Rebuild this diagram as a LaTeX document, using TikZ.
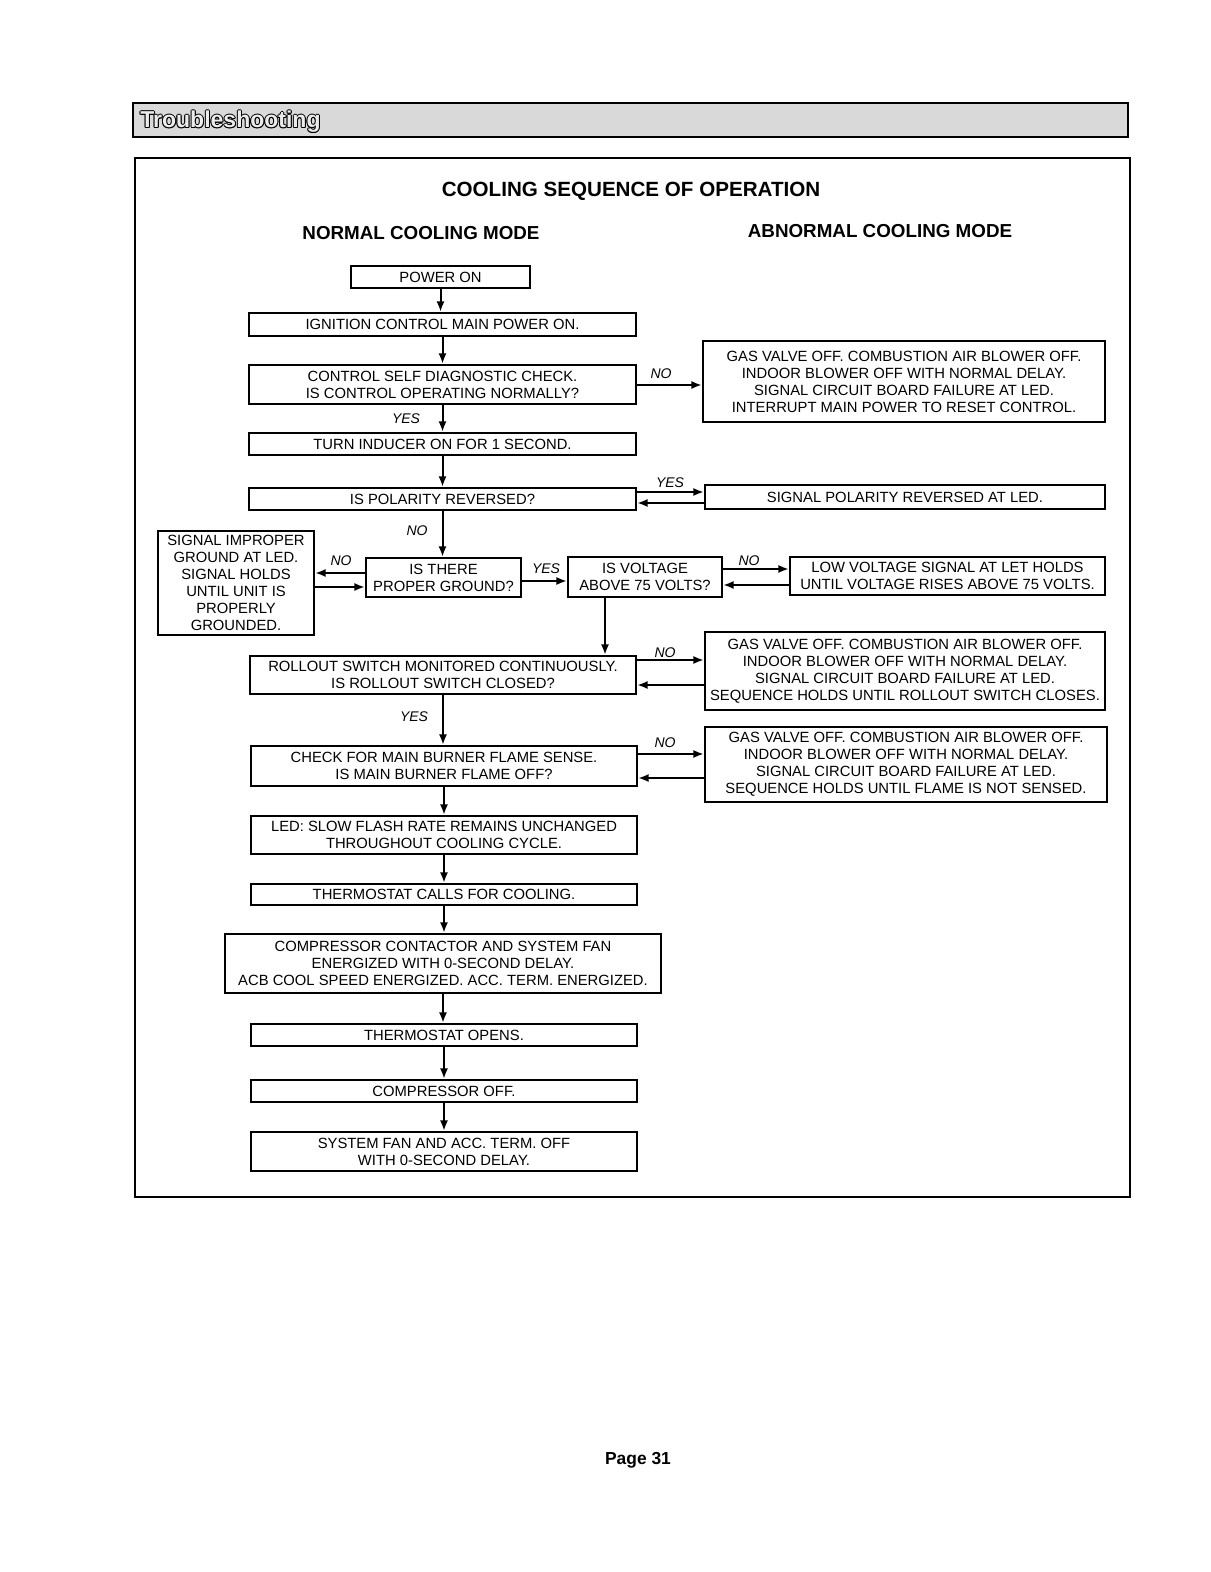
\documentclass[tikz,border=0pt]{standalone}
\usepackage{fontspec}
\setmainfont{Liberation Sans}
\usetikzlibrary{arrows.meta}
\newcommand\bx[6]{\node[box, minimum width={(#4-#2)*0.5pt}, minimum height={(#5-#3)*0.5pt}] (#1) at ({(#2+#4)/2},{(#3+#5)/2}) {#6};}
\begin{document}
\begin{tikzpicture}[x=0.5pt,y=-0.5pt,
  box/.style={draw, line width=1.15pt, inner sep=0pt, align=center, font=\fontsize{7.4}{8.5}\selectfont},
  arr/.style={line width=1pt, -{Latex[length=5.2pt,width=4pt]}},
  lab/.style={font=\fontsize{7}{8}\selectfont\itshape, inner sep=0pt},
  head/.style={font=\fontsize{9.4}{11}\selectfont\bfseries, inner sep=0pt}]
\useasboundingbox (0,0) rectangle (1210,1572);

% banner
\node[draw, line width=1.2pt, fill=gray!30, inner sep=0pt, minimum width=497.5pt, minimum height=17pt] (banner) at (630.5,120) {};
\foreach \dx/\dy in {-0.5/0,0.5/0,0/-0.5,0/0.5,-0.35/-0.35,0.35/0.35,-0.35/0.35,0.35/-0.35}
  \node[anchor=west, inner sep=0pt, font=\fontsize{11.5}{13}\selectfont\bfseries, text=black]
    at ([shift={(\dx pt,\dy pt)}]140,122) {Troubleshooting};
\node[anchor=west, inner sep=0pt, font=\fontsize{11.5}{13}\selectfont\bfseries, text=gray!15]
    (bannertext) at (140,122) {Troubleshooting};

% frame
\draw[line width=1.2pt] (135,158) rectangle (1130,1197);

% headings
\node[head, font=\fontsize{10.3}{12}\selectfont\bfseries] (title) at (631,191) {COOLING SEQUENCE OF OPERATION};
\node[head] (normal) at (421,233) {NORMAL COOLING MODE};
\node[head] (abnormal) at (880,231) {ABNORMAL COOLING MODE};

% boxes
\bx{pwr}{351}{266}{530}{288}{POWER ON}
\bx{ign}{249}{313}{636}{336}{IGNITION CONTROL MAIN POWER ON.}
\bx{ctrl}{249}{365}{636}{404}{CONTROL SELF DIAGNOSTIC CHECK.\\IS CONTROL OPERATING NORMALLY?}
\bx{gv1}{703}{341}{1105}{422}{GAS VALVE OFF. COMBUSTION AIR BLOWER OFF.\\INDOOR BLOWER OFF WITH NORMAL DELAY.\\SIGNAL CIRCUIT BOARD FAILURE AT LED.\\INTERRUPT MAIN POWER TO RESET CONTROL.}
\bx{ind}{249}{433}{636}{455}{TURN INDUCER ON FOR 1 SECOND.}
\bx{pol}{249}{488}{636}{510}{IS POLARITY REVERSED?}
\bx{spr}{705}{485}{1105}{509}{SIGNAL POLARITY REVERSED AT LED.}
\bx{sig}{158}{531}{314}{635}{SIGNAL IMPROPER\\GROUND AT LED.\\SIGNAL HOLDS\\UNTIL UNIT IS\\PROPERLY\\GROUNDED.}
\bx{gnd}{366}{558}{521}{597}{IS THERE\\PROPER GROUND?}
\bx{volt}{568}{557}{722}{597}{IS VOLTAGE\\ABOVE 75 VOLTS?}
\bx{low}{790}{557}{1105}{595}{LOW VOLTAGE SIGNAL AT LET HOLDS\\UNTIL VOLTAGE RISES ABOVE 75 VOLTS.}
\bx{roll}{250}{656}{636}{694}{ROLLOUT SWITCH MONITORED CONTINUOUSLY.\\IS ROLLOUT SWITCH CLOSED?}
\bx{gv2}{705}{632}{1105}{710}{GAS VALVE OFF. COMBUSTION AIR BLOWER OFF.\\INDOOR BLOWER OFF WITH NORMAL DELAY.\\SIGNAL CIRCUIT BOARD FAILURE AT LED.\\SEQUENCE HOLDS UNTIL ROLLOUT SWITCH CLOSES.}
\bx{chk}{251}{746}{637}{786}{CHECK FOR MAIN BURNER FLAME SENSE.\\IS MAIN BURNER FLAME OFF?}
\bx{gv3}{705}{727}{1107}{802}{GAS VALVE OFF. COMBUSTION AIR BLOWER OFF.\\INDOOR BLOWER OFF WITH NORMAL DELAY.\\SIGNAL CIRCUIT BOARD FAILURE AT LED.\\SEQUENCE HOLDS UNTIL FLAME IS NOT SENSED.}
\bx{led}{251}{816}{637}{854}{LED: SLOW FLASH RATE REMAINS UNCHANGED\\THROUGHOUT COOLING CYCLE.}
\bx{tcall}{251}{884}{637}{905}{THERMOSTAT CALLS FOR COOLING.}
\bx{comp}{225}{934}{661}{993}{COMPRESSOR CONTACTOR AND SYSTEM FAN\\ENERGIZED WITH 0-SECOND DELAY.\\ACB COOL SPEED ENERGIZED. ACC. TERM. ENERGIZED.}
\bx{topen}{251}{1024}{637}{1046}{THERMOSTAT OPENS.}
\bx{coff}{251}{1080}{637}{1102}{COMPRESSOR OFF.}
\bx{sys}{251}{1132}{637}{1171}{SYSTEM FAN AND ACC. TERM. OFF\\WITH 0-SECOND DELAY.}

% vertical arrows
\draw[arr] (pwr.south) -- (pwr.south |- ign.north);
\draw[arr] (ign.south) -- (ctrl.north);
\draw[arr] (ctrl.south) -- (ind.north);
\draw[arr] (ind.south) -- (pol.north);
\draw[arr] (pol.south) -- (pol.south |- gnd.north);
\draw[arr] (volt.south -| 605,0) -- (roll.north -| 605,0);
\draw[arr] (roll.south) -- (roll.south |- chk.north);
\draw[arr] (chk.south) -- (led.north);
\draw[arr] (led.south) -- (tcall.north);
\draw[arr] (tcall.south) -- (tcall.south |- comp.north);
\draw[arr] (comp.south) -- (comp.south |- topen.north);
\draw[arr] (topen.south) -- (coff.north);
\draw[arr] (coff.south) -- (sys.north);

% horizontal arrows
\draw[arr] (ctrl.east |- 0,385) -- (gv1.west |- 0,385);
\draw[arr] (pol.east |- 0,492) -- (spr.west |- 0,492);
\draw[arr] (spr.west |- 0,503) -- (pol.east |- 0,503);
\draw[arr] (gnd.west |- 0,573) -- (sig.east |- 0,573);
\draw[arr] (sig.east |- 0,587) -- (gnd.west |- 0,587);
\draw[arr] (gnd.east |- 0,581) -- (volt.west |- 0,581);
\draw[arr] (volt.east |- 0,569) -- (low.west |- 0,569);
\draw[arr] (low.west |- 0,585) -- (volt.east |- 0,585);
\draw[arr] (roll.east |- 0,660) -- (gv2.west |- 0,660);
\draw[arr] (gv2.west |- 0,685) -- (roll.east |- 0,685);
\draw[arr] (chk.east |- 0,754) -- (gv3.west |- 0,754);
\draw[arr] (gv3.west |- 0,778) -- (chk.east |- 0,778);

% labels
\node[lab] (l1) at (661,374) {NO};
\node[lab] (l2) at (406,419) {YES};
\node[lab] (l3) at (670,483) {YES};
\node[lab] (l4) at (417,531) {NO};
\node[lab] (l5) at (341,561) {NO};
\node[lab] (l6) at (546,569) {YES};
\node[lab] (l7) at (749,561) {NO};
\node[lab] (l8) at (665,653) {NO};
\node[lab] (l9) at (414,717) {YES};
\node[lab] (l10) at (665,743) {NO};

% page number
\node[inner sep=0pt, font=\fontsize{8.7}{10}\selectfont\bfseries] (page) at (638,1460) {Page 31};
\end{tikzpicture}
\end{document}
